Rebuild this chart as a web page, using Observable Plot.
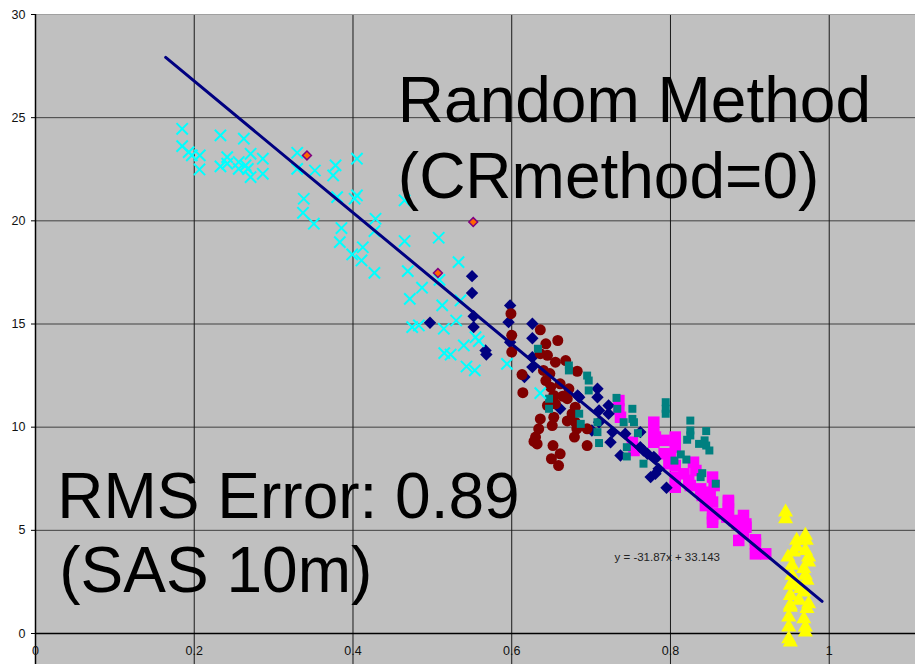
<!DOCTYPE html>
<html>
<head>
<meta charset="utf-8">
<script src="https://cdn.jsdelivr.net/npm/d3@7"></script>
<script src="https://cdn.jsdelivr.net/npm/@observablehq/plot@0.6"></script>
<style>
  html, body { margin: 0; padding: 0; background: white; overflow: hidden; }
  svg { display: block; }
</style>
</head>
<body>
<div id="chart"></div>
<script>
// ---- Data ----
const xTicks = [0, 0.2, 0.4, 0.6, 0.8, 1];
const xTickLabels = ["0", "0.2", "0.4", "0.6", "0.8", "1"];
const yTicks = [0, 5, 10, 15, 20, 25, 30];

const cyanX = [0.1848,0.1848,0.193,0.197,0.207,0.2066,0.233,0.233,0.2415,0.2415,0.2625,0.256,0.256,0.2646,0.271,0.271,0.2864,0.2864,0.2675,0.3297,0.3297,0.352,0.378,0.375,0.405,0.338,0.337,0.3507,0.380,0.402,0.405,0.3855,0.3834,0.399,0.4124,0.4107,0.427,0.4284,0.427,0.465,0.465,0.508,0.469,0.487,0.4716,0.5124,0.533,0.509,0.530,0.4746,0.483,0.5144,0.5544,0.5585,0.5396,0.515,0.523,0.543,0.5535,0.594,0.636,0.5355];
const cyanY = [24.46,23.62,23.33,23.17,23.17,22.49,24.14,22.64,23.09,22.77,23.98,22.85,22.52,22.69,23.25,22.12,23.01,22.28,22.52,23.3,22.52,22.44,22.69,22.2,23.01,21.07,20.39,19.86,21.15,21.07,21.23,19.65,18.97,18.37,18.72,18.08,17.48,20.1,19.5,20.99,19.02,19.18,17.56,16.76,16.22,15.9,18.0,17.14,15.17,14.85,14.93,14.77,14.36,14.17,13.96,13.59,13.52,12.94,12.75,13.07,11.65,16.14];

const orangeX = [0.342, 0.5515, 0.507];
const orangeY = [23.17, 19.94, 17.47];

const navyX = [0.550,0.550,0.552,0.552,0.497,0.567,0.568,0.598,0.596,0.626,0.626,0.598,0.626,0.626,0.616,0.708,0.683,0.661,0.685,0.708,0.722,0.71,0.727,0.7245,0.743,0.737,0.762,0.762,0.771,0.779,0.781,0.775,0.701,0.722,0.71,0.766,0.781,0.785,0.795];
const navyY = [17.32,16.5,15.38,14.85,15.06,13.72,13.52,15.9,15.09,15.01,14.31,14.12,13.39,12.91,12.43,11.86,11.54,10.89,11.45,11.45,11.05,10.81,9.76,9.27,9.68,8.63,9.76,9.03,8.71,8.55,7.74,7.58,9.84,10.65,10.24,8.87,8.47,7.98,7.06];

const redX = [0.599,0.6,0.6,0.636,0.643,0.658,0.636,0.645,0.613,0.614,0.655,0.668,0.6825,0.640,0.643,0.649,0.653,0.672,0.67,0.661,0.645,0.655,0.680,0.676,0.653,0.651,0.636,0.634,0.63,0.628,0.632,0.680,0.682,0.679,0.695,0.695,0.652,0.661,0.650,0.659,0.664,0.648,0.67];
const redY = [15.5,14.45,13.64,14.72,14.04,14.2,13.56,13.48,12.55,11.67,13.15,13.23,12.71,12.75,12.26,11.94,11.54,11.86,11.38,12.1,11.05,11.13,10.97,10.65,10.48,10.08,10.4,9.92,9.52,9.31,9.19,10.24,9.92,9.52,9.92,9.11,9.11,8.71,8.47,8.14,11.5,12.6,10.3];

const tealX = [0.633,0.672,0.672,0.695,0.697,0.697,0.647,0.647,0.685,0.687,0.708,0.708,0.71,0.732,0.733,0.752,0.752,0.754,0.741,0.759,0.745,0.745,0.766,0.794,0.794,0.794,0.825,0.825,0.825,0.821,0.845,0.836,0.843,0.845,0.849,0.813,0.82,0.805,0.838,0.84,0.857];
const tealY = [13.8,12.99,12.75,12.5,12.26,11.78,11.38,10.89,10.65,10.16,10.24,9.76,9.23,11.42,10.89,10.89,10.4,10.24,10.24,9.71,9.03,8.58,8.23,11.21,10.89,10.65,10.32,9.84,9.6,9.39,9.81,9.19,9.36,9.11,8.87,8.68,8.43,8.38,7.58,7.77,7.26];

const magentaX = [0.735,0.735,0.737,0.779,0.781,0.792,0.806,0.792,0.8,0.752,0.754,0.779,0.779,0.806,0.798,0.806,0.806,0.806,0.817,0.829,0.832,0.823,0.825,0.838,0.84,0.853,0.855,0.846,0.853,0.853,0.873,0.873,0.871,0.88,0.892,0.895,0.892,0.907,0.85,0.853,0.844,0.853,0.873,0.873,0.867,0.895,0.884,0.886,0.907,0.907,0.92];
const magentaY = [11.29,10.89,10.48,10.24,9.52,9.36,9.52,8.71,8.63,9.27,8.87,9.68,9.27,9.03,8.23,8.14,7.58,7.09,7.74,8.3,7.9,7.42,7.17,7.01,6.69,7.58,7.17,6.28,5.8,5.39,6.45,6.04,5.64,5.48,5.72,5.15,4.83,4.54,6.85,6.37,6.2,5.56,6.37,5.88,5.8,5.31,5.31,4.51,4.35,3.86,3.86];

const yellowX = [0.945,0.945,0.959,0.959,0.970,0.971,0.955,0.970,0.974,0.974,0.948,0.953,0.968,0.97,0.972,0.953,0.955,0.964,0.968,0.951,0.951,0.974,0.972,0.951,0.951,0.962,0.949,0.949,0.968,0.97,0.97,0.949,0.951];
const yellowY = [5.88,5.56,4.51,4.18,4.75,4.51,3.94,4.02,3.7,3.46,3.7,3.3,3.14,2.81,2.57,2.81,2.49,2.17,2.0,2.33,1.84,1.44,1.2,1.36,1.27,1.6,0.79,0.31,0.71,0.31,0.06,-0.26,-0.42];

// Trend line y = -31.87x + 33.143, drawn between its end points
const trendX = [0.164, 0.991];
const trendY = [27.92, 1.56];
const equationLabel = "y = -31.87x + 33.143";

const titleLines = ["Random Method", "(CRmethod=0)"];
const rmsLines = ["RMS Error: 0.89", "(SAS 10m)"];

// ---- Build tables ----
const pts = (xs, ys) => xs.map((x, i) => ({x, y: ys[i]}));
const yGrid = yTicks.filter(d => d > 0);
const xGrid = xTicks.filter(d => d > 0);

const font = "'Liberation Sans', Arial, sans-serif";

const chart = Plot.plot({
  width: 915,
  height: 664,
  marginTop: 14,
  marginLeft: 35,
  marginRight: 0,
  marginBottom: 0,
  x: {domain: [0, 1.1087], axis: null},
  y: {domain: [-1.5024, 30], axis: null},
  style: {fontFamily: font, background: "white", color: "black"},
  marks: [
    Plot.frame({fill: "#c0c0c0"}),
    Plot.ruleY(yGrid, {stroke: "#404040", strokeWidth: 1}),
    Plot.ruleX(xGrid, {stroke: "#1a1a1a", strokeWidth: 1}),
    Plot.ruleY([30], {stroke: "#a0a0a0", strokeWidth: 1.2}),
    Plot.ruleY([0], {stroke: "black", strokeWidth: 1.3}),
    Plot.ruleX([0], {stroke: "black", strokeWidth: 1.5}),
    Plot.axisY(yTicks, {label: null, tickSize: 4, tickPadding: 6, fontSize: 12.5, fill: "#111"}),
    Plot.text(xTicks, {x: d => d, y: 0, dy: 17, text: (d, i) => xTickLabels[i], fontSize: 12.5, fill: "#111"}),
    // series
    Plot.dot(pts(magentaX, magentaY), {x: "x", y: "y", symbol: "square", fill: "#ff00ff", r: 6.5}),
    Plot.dot(pts(navyX, navyY), {x: "x", y: "y", symbol: "diamond2", fill: "#000080", r: 5.6}),
    Plot.dot(pts(redX, redY), {x: "x", y: "y", symbol: "circle", fill: "#800000", r: 5.5}),
    Plot.dot(pts(tealX, tealY), {x: "x", y: "y", symbol: "square", fill: "#008080", r: 4.5}),
    Plot.dot(pts(yellowX, yellowY), {x: "x", y: "y", symbol: "triangle", fill: "#ffff00", r: 5.6}),
    Plot.dot(pts(cyanX, cyanY), {x: "x", y: "y", symbol: "times", fill: "none", stroke: "#00ffff", strokeWidth: 2, r: 5.2}),
    Plot.dot(pts(orangeX, orangeY), {x: "x", y: "y", symbol: "diamond2", fill: "#ff6600", stroke: "#800080", strokeWidth: 1.5, r: 4}),
    Plot.line(pts(trendX, trendY), {x: "x", y: "y", stroke: "#000080", strokeWidth: 3}),
    // annotations
    Plot.text([equationLabel], {x: 0.7295, y: 3.49, text: d => d, textAnchor: "start", lineAnchor: "bottom", fontSize: 11.5, fill: "#222"}),
    Plot.text([titleLines[0]], {x: 0.4565, y: 24.77, text: d => d, textAnchor: "start", lineAnchor: "bottom", fontSize: 64, fill: "black"}),
    Plot.text([titleLines[1]], {x: 0.4565, y: 21.13, text: d => d, textAnchor: "start", lineAnchor: "bottom", fontSize: 64, fill: "black"}),
    Plot.text([rmsLines[0]], {x: 0.0275, y: 5.62, text: d => d, textAnchor: "start", lineAnchor: "bottom", fontSize: 64, fill: "black"}),
    Plot.text([rmsLines[1]], {x: 0.030, y: 1.99, text: d => d, textAnchor: "start", lineAnchor: "bottom", fontSize: 64, fill: "black"})
  ]
});
document.getElementById("chart").append(chart);
</script>
</body>
</html>
